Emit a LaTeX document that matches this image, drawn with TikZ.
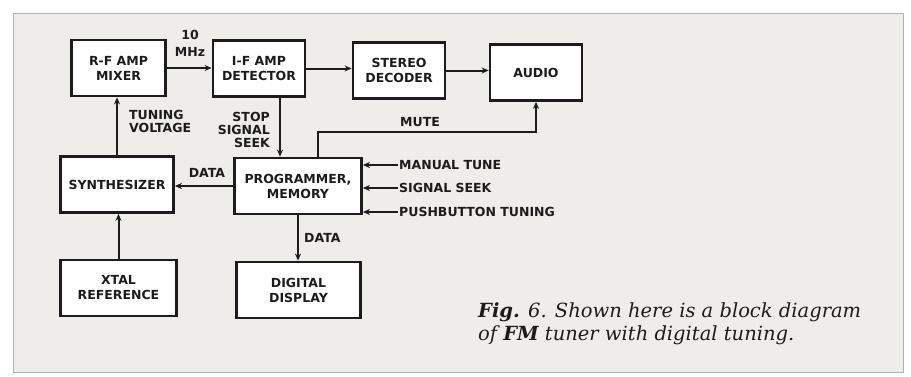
\documentclass[tikz,border=0pt]{standalone}
\usepackage{fontspec}
\usepackage{tikz}
\usetikzlibrary{positioning, arrows.meta}
\newfontfamily\blockfont{DejaVu Sans}
\newfontfamily\capfont{DejaVu Serif}
\definecolor{paper}{HTML}{EEEDEA}
\definecolor{ink}{HTML}{1C1C1C}

\begin{document}
\begin{tikzpicture}[
  x=1pt, y=-1pt,
  block/.style={draw=ink, line width=2.8pt, fill=white, minimum height=56pt, align=center, text=ink,
    font=\blockfont\bfseries\fontsize{12.5}{15}\selectfont},
  tag/.style={text=ink, inner sep=1pt, font=\blockfont\bfseries\fontsize{12.5}{13}\selectfont},
  sig/.style={draw=ink, line width=2pt, -{Stealth[length=7pt, width=6pt]}}
]
  \useasboundingbox (0,0) rectangle (911,376);
  \draw[gray!60, fill=paper] (13,13) rectangle (903,372);

  % top row: signal path
  \node[block, minimum width=94pt] (rf) at (118.5,68) {R-F AMP\\MIXER};
  \node[block, minimum width=92pt] (ifamp) at (259,68.5) {I-F AMP\\DETECTOR};
  \node[block, minimum width=92pt] (stereo) at (399,70.5) {STEREO\\DECODER};
  \node[block, minimum width=92pt] (audio) at (536,72.5) {AUDIO};
  \draw[sig] (rf.east) -- (rf.east -| ifamp.west);
  \draw[sig] (ifamp.east) -- (ifamp.east -| stereo.west);
  \draw[sig] (stereo.east) -- (stereo.east -| audio.west);
  \node[tag, align=center, font=\blockfont\bfseries\fontsize{12.5}{17}\selectfont] (mhz) at (190,43.5) {10\\MHz};

  % middle row: control
  \node[block, minimum width=113pt] (synth) at (117,184.5) {SYNTHESIZER};
  \node[block, minimum width=127pt] (prog) at (298,186) {PROGRAMMER,\\MEMORY};
  \draw[sig] (synth.north) -- (synth.north |- rf.south);
  \draw[sig] ([xshift=21pt]ifamp.south) -- ([xshift=21pt]ifamp.south |- prog.north);
  \draw[sig] (prog.west) -- (prog.west -| synth.east);
  \draw[sig] ([xshift=20pt]prog.north) -- ++(0,-25) -| (audio.south);
  \node[tag, align=left, anchor=west] (tuning) at (128,121.5) {TUNING\\VOLTAGE};
  \node[tag, align=right, anchor=east] (stop) at (271,129.5) {STOP\\SIGNAL\\SEEK};
  \node[tag] (data1) at (207,173) {DATA};
  \node[tag] (mute) at (420,122) {MUTE};

  % inputs to the programmer
  \node[tag, anchor=west] (manual) at (398,165) {MANUAL TUNE};
  \node[tag, anchor=west] (seek) at (398,188) {SIGNAL SEEK};
  \node[tag, anchor=west] (push) at (398,212) {PUSHBUTTON TUNING};
  \draw[sig] (manual.west) -- (manual.west -| prog.east);
  \draw[sig] (seek.west) -- (seek.west -| prog.east);
  \draw[sig] (push.west) -- (push.west -| prog.east);

  % bottom row
  \node[block, minimum width=116pt] (xtal) at (118.5,288) {XTAL\\REFERENCE};
  \node[block, minimum width=124pt] (display) at (298.5,290) {DIGITAL\\DISPLAY};
  \draw[sig] (xtal.north) -- (xtal.north |- synth.south);
  \draw[sig] (prog.south) -- (prog.south |- display.north);
  \node[tag, anchor=west] (data2) at (303,238) {DATA};

  \node[anchor=west, align=left, text=ink, inner sep=0pt, font=\capfont\itshape\fontsize{19.5}{23}\selectfont] (caption) at (478,323.5)
    {\textbf{Fig.} 6. Shown here is a block diagram\\of \textbf{FM} tuner with digital tuning.};
\end{tikzpicture}
\end{document}
